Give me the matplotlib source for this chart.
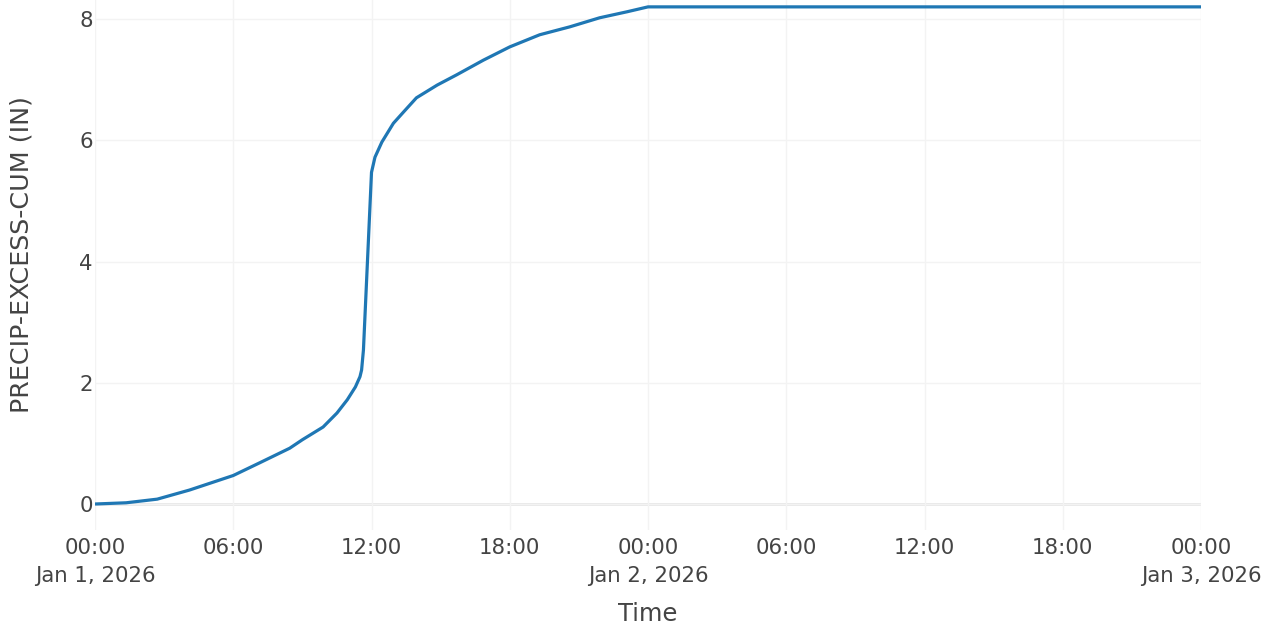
import datetime as dt

import matplotlib
matplotlib.use("Agg")
import matplotlib.pyplot as plt
import matplotlib.dates as mdates

# Cumulative precipitation excess (inches) at hours after 2026-01-01 00:00
hours = [0, 1.35, 2.7, 4.1, 6.0, 7.15, 8.45, 9.0, 9.9, 10.5, 10.95, 11.3, 11.5,
         11.57, 11.65, 12.0, 12.15, 12.45, 12.95, 13.4, 13.95, 14.85, 15.7,
         16.85, 18.0, 19.3, 20.6, 21.9, 23.1, 24.0, 48.0]
excess_cum = [0.0, 0.02, 0.08, 0.23, 0.47, 0.68, 0.92, 1.06, 1.27, 1.50, 1.72,
              1.93, 2.10, 2.21, 2.54, 5.47, 5.72, 5.97, 6.28, 6.47, 6.70, 6.91,
              7.08, 7.32, 7.54, 7.74, 7.87, 8.02, 8.12, 8.20, 8.20]

start = dt.datetime(2026, 1, 1)
times = [start + dt.timedelta(hours=h) for h in hours]

tick_hours = list(range(0, 49, 6))
tick_labels = ["00:00\nJan 1, 2026", "06:00", "12:00", "18:00",
               "00:00\nJan 2, 2026", "06:00", "12:00", "18:00",
               "00:00\nJan 3, 2026"]
y_ticks = [0, 2, 4, 6, 8]

text_color = "#444444"
plt.rcParams["font.family"] = ["DejaVu Sans"]

fig = plt.figure(figsize=(12.7, 6.29), dpi=100)
ax = fig.add_axes([95 / 1270, 1 - 530 / 629, (1201 - 95) / 1270, 530 / 629])

ax.plot(times, excess_cum, color="#1f77b4", linewidth=2.3, solid_joinstyle="round", zorder=3)

ax.set_xlim(start, start + dt.timedelta(hours=48))
ax.set_ylim(-26 / 60.625, 504 / 60.625)

ax.set_xticks([mdates.date2num(start + dt.timedelta(hours=h)) for h in tick_hours])
ax.set_xticklabels(tick_labels, linespacing=1.45)
ax.set_yticks(y_ticks)
ax.set_yticklabels([str(v) for v in y_ticks])

ax.tick_params(axis="both", length=0, labelsize=15.3, labelcolor=text_color)
ax.tick_params(axis="x", pad=6)
ax.tick_params(axis="y", pad=1.5)

ax.grid(True, color="#f3f3f3", linewidth=1.0, zorder=0)
ax.axhline(0, color="#e6e6e6", linewidth=2.0, zorder=1)
for s in ax.spines.values():
    s.set_visible(False)

ax.set_xlabel("Time", fontsize=17.5, color=text_color)
ax.set_ylabel("PRECIP-EXCESS-CUM (IN)", fontsize=18.3, color=text_color)
ax.xaxis.set_label_coords(0.5, -0.136)
ax.yaxis.set_label_coords(-0.056, 0.519)

fig.savefig("out.png", dpi=100, facecolor="white")
